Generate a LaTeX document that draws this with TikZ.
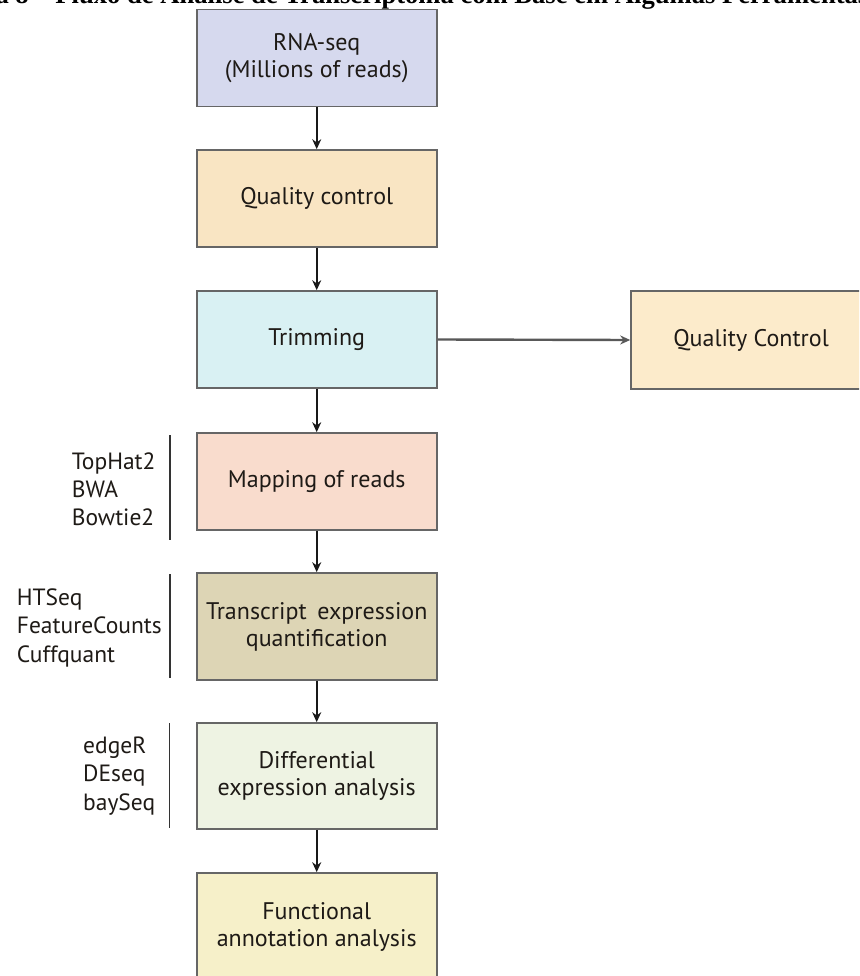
\documentclass[tikz,border=0pt]{standalone}
\usepackage{fontspec}
\setmainfont{PT Sans}
\newfontfamily\titlefont{Liberation Serif}
\usetikzlibrary{arrows.meta}
\definecolor{bordergray}{HTML}{666666}
\definecolor{crna}{HTML}{D6D9EE}
\definecolor{cqc}{HTML}{F9E5C3}
\definecolor{ctrim}{HTML}{D9F1F3}
\definecolor{cqcr}{HTML}{FCEBCB}
\definecolor{cmap}{HTML}{F9DCCD}
\definecolor{ctrans}{HTML}{DDD5B5}
\definecolor{cdiff}{HTML}{EEF3E3}
\definecolor{cfunc}{HTML}{F6F0C9}
\definecolor{textdark}{HTML}{1E1A16}
\tikzset{
  flowbox/.style={draw=bordergray, line width=1.6pt, minimum width=240pt, align=center,
    font=\fontsize{24}{27}\selectfont, text=textdark, inner sep=0pt},
  flowarrow/.style={line width=1.6pt, draw=black!90, -{Stealth[length=10pt,width=9pt]}},
  sidearrow/.style={line width=2.4pt, draw=black!60, -{Stealth[length=10pt,width=9pt]}, color=black!65},
  toolbar/.style={line width=1.5pt, draw=black!80},
  tool/.style={anchor=base west, font=\fontsize{23.5}{27}\selectfont, text=textdark, inner sep=0pt}
}
\begin{document}
\begin{tikzpicture}[x=1pt,y=-1pt]
\useasboundingbox (0,0) rectangle (859,976);
\clip (0,0) rectangle (859,976);
\fill[white] (0,0) rectangle (859,976);
% title (cut off at the top)
\node[anchor=base east, inner sep=0pt, font=\titlefont\bfseries\fontsize{26.6}{30}\selectfont] (title) at (868.5,4)
  {Figura 8 – Fluxo de Análise de Transcriptoma com Base em Algumas Ferramentas};
% boxes
\node[flowbox, fill=crna, minimum height=97pt] (rna) at (316.7,58) {RNA-seq\\(Millions of reads)};
\node[flowbox, fill=cqc, minimum height=97pt] (qc) at (316.7,198.5) {Quality control};
\node[flowbox, fill=ctrim, minimum height=97pt] (trim) at (316.7,339.5) {Trimming};
\node[flowbox, fill=cqcr, minimum height=98pt, minimum width=240pt] (qcr) at (751,340) {Quality Control};
\node[flowbox, fill=cmap, minimum height=97pt] (map) at (316.7,481.5) {Mapping of reads};
\node[flowbox, fill=ctrans, minimum height=107pt] (trans) at (316.7,626.5) {Transcript\hspace{0.45em}expression\\quantification};
\node[flowbox, fill=cdiff, minimum height=106pt] (diff) at (316.7,776) {Differential\\expression analysis};
\node[flowbox, fill=cfunc, minimum height=108pt] (func) at (316.7,927) {Functional\\annotation analysis};
% arrows
\draw[flowarrow] (rna) -- (qc);
\draw[flowarrow] (qc) -- (trim);
\draw[flowarrow] (trim) -- (map);
\draw[flowarrow] (map) -- (trans);
\draw[flowarrow] (trans) -- (diff);
\draw[flowarrow] (diff) -- (func);
\draw[sidearrow] (trim.east) -- (qcr.west);
% tool lists
\node[tool] (t1) at (71.7,469) {TopHat2};
\node[tool] (t2) at (71.7,497) {BWA};
\node[tool] (t3) at (71.7,525) {Bowtie2};
\coordinate (b1a) at (170,435);
\coordinate (b1b) at (170,540);
\draw[toolbar] (b1a) -- (b1b);
\node[tool] (h1) at (16.7,605) {HTSeq};
\node[tool] (h2) at (16.7,633.5) {FeatureCounts};
\node[tool] (h3) at (16.7,662) {Cuffquant};
\coordinate (b2a) at (170,574);
\coordinate (b2b) at (170,678);
\draw[toolbar] (b2a) -- (b2b);
\node[tool] (e1) at (83,753) {edgeR};
\node[tool] (e2) at (83,781.5) {DEseq};
\node[tool] (e3) at (83,810) {baySeq};
\coordinate (b3a) at (169.5,723);
\coordinate (b3b) at (169.5,828);
\draw[toolbar] (b3a) -- (b3b);
\end{tikzpicture}
\end{document}
